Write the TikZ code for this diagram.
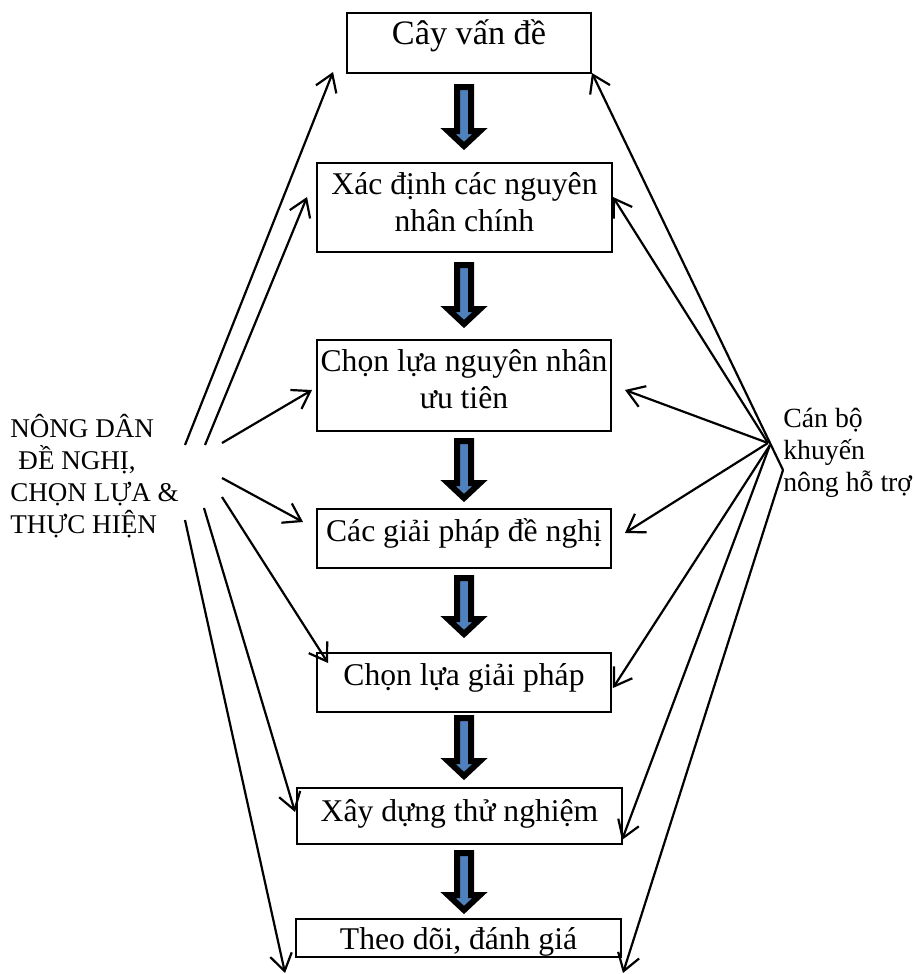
\documentclass[tikz,border=0pt]{standalone}
\usepackage{fontspec}
\setmainfont{Liberation Serif}
\usetikzlibrary{arrows.meta,calc}

\definecolor{flowblue}{RGB}{79,129,189}

\tikzset{
  stepbox/.style={draw, line width=1.1pt, rectangle, inner sep=0pt, outer sep=0pt,
    anchor=north, align=center, font=\fontsize{18}{21.5}\selectfont},
  link/.style={line width=1.25pt, -{Straight Barb[length=9.5pt,width=12.5pt]}},
  sidetext/.style={align=left, anchor=base west, inner sep=0pt,
    font=\fontsize{15.4}{18.2}\selectfont},
  % thick-outlined blue block arrow pointing down, #1 = length
  pics/flowarrow/.style={code={
    \draw[line width=0.12cm, fill=flowblue, line join=miter, miter limit=10]
      (-7,0) -- (7,0) -- (7,#1-15) -- (16,#1-15) -- (0,#1)
      -- (-16,#1-15) -- (-7,#1-15) -- cycle;}}
}

\begin{document}
\begin{tikzpicture}[x=0.02cm, y=-0.02cm]
\useasboundingbox (0,0) rectangle (914,974);

% process steps (text height/depth measured from the last baseline)
\node[stepbox, minimum width=4.88cm, text height=0.64cm, text depth=0.56cm,
  font=\fontsize{19.5}{23}\selectfont] (b1) at (469,13) {Cây vấn đề};
\node[stepbox, minimum width=5.9cm, text height=1.38cm, text depth=0.4cm] (b2) at (464.5,163) {Xác định các nguyên\\nhân chính};
\node[stepbox, minimum width=5.88cm, text height=1.38cm, text depth=0.44cm] (b3) at (464,340) {Chọn lựa nguyên nhân\\ưu tiên};
\node[stepbox, minimum width=5.88cm, text height=0.64cm, text depth=0.54cm] (b4) at (464,509) {Các giải pháp đề nghị};
\node[stepbox, minimum width=5.88cm, text height=0.64cm, text depth=0.54cm] (b5) at (464,653) {Chọn lựa giải pháp};
\node[stepbox, minimum width=6.5cm, text height=0.66cm, text depth=0.46cm] (b6) at (459.5,788) {Xây dựng thử nghiệm};
\node[stepbox, minimum width=6.5cm, text height=0.6cm, text depth=0.16cm] (b7) at (458.5,919) {Theo dõi, đánh giá};

% block arrows between the steps
\pic at (464,87) {flowarrow=59};
\pic at (464,265) {flowarrow=59};
\pic at (464,441) {flowarrow=57};
\pic at (464,578) {flowarrow=56};
\pic at (464,718) {flowarrow=58};
\pic at (464,853) {flowarrow=57};

% side labels (anchored on their last baseline)
\node[sidetext] (farmers) at (10,533) {NÔNG DÂN\\\hspace{0.3em}ĐỀ NGHỊ,\\CHỌN LỰA \&\\THỰC HIỆN};
\node[sidetext, font=\fontsize{15.8}{18.2}\selectfont] (extension) at (783,491) {Cán bộ\\khuyến\\nông hỗ trợ};

% fan of arrows on the left
\coordinate (l1) at (185,445);
\coordinate (l2) at (205,445);
\coordinate (l3) at (222,443);
\coordinate (l4) at (222,478);
\coordinate (l5) at (222,497);
\coordinate (l6) at (204,508);
\coordinate (l7) at (185,520);

\draw[link] (l1) -- ($(b1.south west)+(-14,-1)$);
\draw[link] (l2) -- ($(b2.west)+(-10,-10.5)$);
\draw[link] (l3) -- ($(b3.west)+(-5,4.5)$);
\draw[link] (l4) -- ($(b4.west)+(-14,-16.5)$);
\draw[link] (l5) -- ($(b5.north west)+(11,10)$);
\draw[link] (l6) -- ($(b6.west)+(-2,-4)$);
\draw[link] (l7) -- ($(b7.south west)+(-11,16)$);

% fan of arrows on the right
\coordinate (r1) at (783,470);
\coordinate (r2) at (768,443);
\coordinate (r3) at (768,443);
\coordinate (r4) at (768,443);
\coordinate (r5) at (770,445);
\coordinate (r6) at (770,445);
\coordinate (r7) at (783,470);

\draw[link] (r1) -- ($(b1.south east)+(1,0)$);
\draw[link] (r2) -- ($(b2.east)+(1,-10.5)$);
\draw[link] (r3) -- ($(b3.east)+(14,4.5)$);
\draw[link] (r4) -- ($(b4.east)+(14,-5.5)$);
\draw[link] (r5) -- ($(b5.east)+(2,5.5)$);
\draw[link] (r6) -- ($(b6.south east)+(0,-4)$);
\draw[link] (r7) -- ($(b7.south east)+(2,16)$);
\end{tikzpicture}
\end{document}
